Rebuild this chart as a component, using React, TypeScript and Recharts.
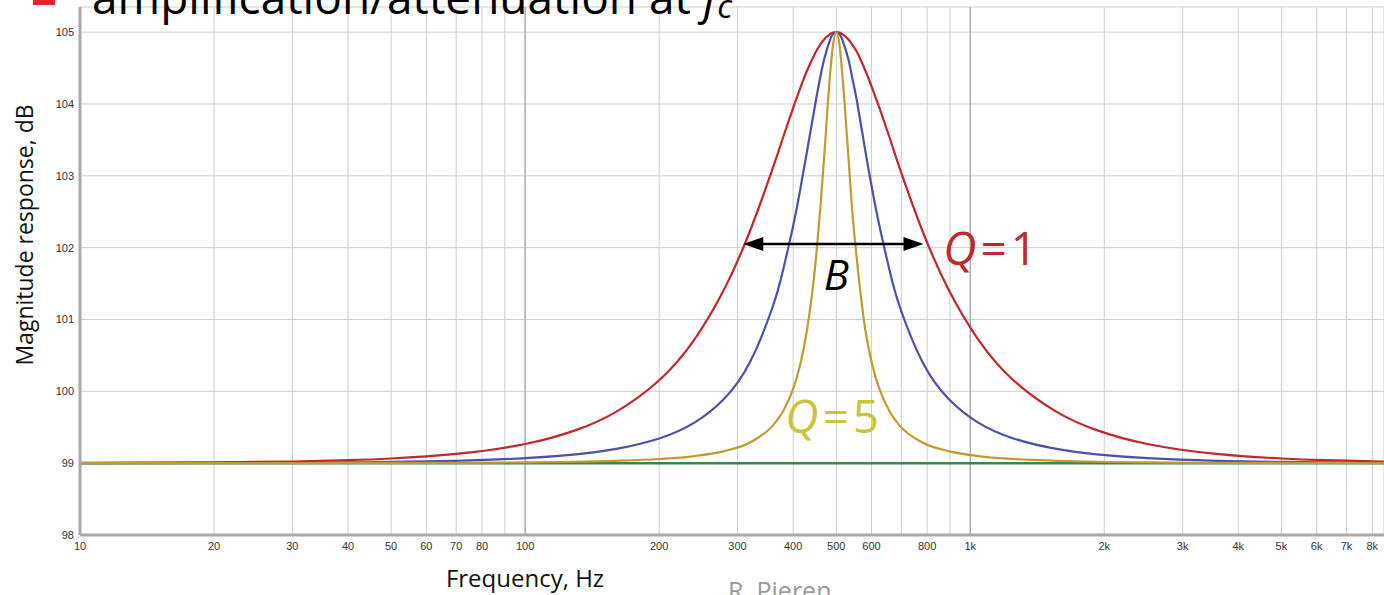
import React from "react";
import { CartesianGrid, Line, LineChart, ReferenceDot, ReferenceLine, XAxis, YAxis } from "recharts";

// sample frequencies (Hz), denser around the 500 Hz centre
const freqs = [
  10, 20, 30, 40, 50, 70, 100, 130, 160, 200, 240, 280, 320, 360, 380, 400, 415, 430, 450, 460, 470, 485, 492,
  500,
  508, 515, 532, 543, 556, 581, 602, 625, 658, 694, 781, 893, 1042, 1250, 1563, 1923, 2500, 3571, 5000, 6250, 8333, 8500,
];

// magnitude response in dB for the three peaking filters
const q1Values = [
  99.003, 99.01, 99.023, 99.042, 99.065, 99.129, 99.267, 99.46, 99.714, 100.154, 100.721, 101.42, 102.232, 103.108,
  103.54, 103.946, 104.222, 104.466, 104.726, 104.825, 104.902, 104.976, 104.993,
  105,
  104.993, 104.976, 104.902, 104.825, 104.726, 104.466, 104.222, 103.946, 103.54, 103.108, 102.232, 101.42, 100.721,
  100.154, 99.714, 99.46, 99.267, 99.129, 99.065, 99.042, 99.023, 99.022,
];
const q2Values = [
  99.001, 99.003, 99.006, 99.011, 99.017, 99.033, 99.07, 99.123, 99.198, 99.344, 99.564, 99.897, 100.407, 101.181,
  101.696, 102.303, 102.812, 103.348, 104.05, 104.364, 104.63, 104.905, 104.973,
  105,
  104.973, 104.905, 104.63, 104.364, 104.05, 103.348, 102.812, 102.303, 101.696, 101.181, 100.407, 99.897, 99.564,
  99.344, 99.198, 99.123, 99.07, 99.033, 99.017, 99.011, 99.006, 99.006,
];
const q5Values = [
  99.0, 99.0, 99.001, 99.002, 99.003, 99.005, 99.011, 99.02, 99.033, 99.058, 99.099, 99.167, 99.288, 99.523, 99.725,
  100.033, 100.375, 100.861, 101.844, 102.516, 103.296, 104.46, 104.837,
  105,
  104.837, 104.46, 103.296, 102.516, 101.844, 100.861, 100.375, 100.033, 99.725, 99.523, 99.288, 99.167, 99.099,
  99.058, 99.033, 99.02, 99.011, 99.005, 99.003, 99.002, 99.001, 99.001,
];

// unfiltered level
const baseLevel = 99;
const baseLine = [
  { f: 10, db: baseLevel },
  { f: 8500, db: baseLevel },
];

// x gridlines and their labels (blank = line only)
const gridFreqs = [10, 20, 30, 40, 50, 60, 70, 80, 90, 100, 200, 300, 400, 500, 600, 700, 800, 900, 1000, 2000, 3000, 4000, 5000, 6000, 7000, 8000];
const tickLabels = ["10", "20", "30", "40", "50", "60", "70", "80", "", "100", "200", "300", "400", "500", "600", "", "800", "", "1k", "2k", "3k", "4k", "5k", "6k", "7k", "8k"];
const dbTicks = [98, 99, 100, 101, 102, 103, 104, 105];

// bandwidth arrow for Q=1 (edges at the 102 dB level)
const bandLow = 309;
const bandHigh = 785;
const bandLevel = 102.05;

const data = freqs.map((f, i) => ({ f, q1: q1Values[i], q2: q2Values[i], q5: q5Values[i] }));

const RED = "#c3262d";
const BLUE = "#4b4fae";
const GOLD = "#c29b2f";
const GREEN = "#2c8c48";
const LABEL_YELLOW = "#c9c53a";
const AXIS_GRAY = "#a9a9a9";

const labelFor = (f: number) => tickLabels[gridFreqs.indexOf(f)] ?? "";

const BandArrow = (props: any) => {
  const { x1, y1, x2 } = props;
  const head = 20;
  const half = 7;
  return (
    <g>
      <line x1={x1 + head - 2} y1={y1} x2={x2 - head + 2} y2={y1} stroke="#000" strokeWidth={2.5} />
      <polygon points={`${x1},${y1} ${x1 + head},${y1 - half} ${x1 + head},${y1 + half}`} fill="#000" />
      <polygon points={`${x2},${y1} ${x2 - head},${y1 - half} ${x2 - head},${y1 + half}`} fill="#000" />
    </g>
  );
};

const qLabel = (value: string, color: string) => (props: any) => (
  <text x={props.cx} y={props.cy} fill={color} fontSize={46} fontFamily="Open Sans" letterSpacing={4}>
    <tspan fontStyle="italic">Q</tspan>={value}
  </text>
);

const bLabel = (props: any) => (
  <text x={props.cx} y={props.cy} textAnchor="middle" fill="#000" fontSize={42} fontStyle="italic" fontFamily="Open Sans">
    B
  </text>
);

const App: React.FC = () => {
  return (
    <div style={{ position: "absolute", left: 0, top: 0, width: 1384, height: 595, overflow: "hidden", background: "#fff" }}>
      <LineChart width={1384} height={595} data={data} margin={{ top: 7, right: 0, bottom: 0, left: 0 }}>
        <CartesianGrid stroke="#cfcfcf" strokeWidth={1} />
        <ReferenceLine x={100} stroke="#999" />
        <ReferenceLine x={1000} stroke="#999" />
        <XAxis
          dataKey="f"
          type="number"
          scale="log"
          domain={[10, 8500]}
          ticks={gridFreqs}
          allowDataOverflow
          height={60}
          tickLine={false}
          tickSize={5}
          axisLine={{ stroke: AXIS_GRAY, strokeWidth: 3 }}
          tickFormatter={labelFor}
          tick={{ fontSize: 11, fill: "#333", fontFamily: "Liberation Sans" }}
          interval={0}
        />
        <YAxis
          type="number"
          domain={[98, 105.35]}
          ticks={dbTicks}
          allowDataOverflow
          width={80}
          tickLine={false}
          tickSize={4}
          axisLine={{ stroke: AXIS_GRAY, strokeWidth: 3 }}
          tick={{ fontSize: 11, fill: "#333", fontFamily: "Liberation Sans" }}
          interval={0}
        />
        <Line data={baseLine} dataKey="db" type="linear" stroke={GREEN} strokeWidth={2.5} dot={false} isAnimationActive={false} />
        <Line dataKey="q1" type="natural" stroke={RED} strokeWidth={2.2} dot={false} isAnimationActive={false} />
        <Line dataKey="q2" type="natural" stroke={BLUE} strokeWidth={2.2} dot={false} isAnimationActive={false} />
        <Line dataKey="q5" type="monotone" stroke={GOLD} strokeWidth={2.2} dot={false} isAnimationActive={false} />
        <ReferenceLine
          segment={[
            { x: bandLow, y: bandLevel },
            { x: bandHigh, y: bandLevel },
          ]}
          shape={BandArrow}
        />
        <ReferenceDot x={500} y={101.41} r={0} shape={bLabel} />
        <ReferenceDot x={870} y={101.76} r={0} shape={qLabel("1", RED)} />
        <ReferenceDot x={384} y={99.42} r={0} shape={qLabel("5", LABEL_YELLOW)} />
      </LineChart>
      <svg width={1384} height={595} style={{ position: "absolute", left: 0, top: 0, pointerEvents: "none" }}>
        <rect x={33} y={-17} width={22} height={22} fill="#e5232b" />
        <text x={92} y={14} fontSize={46} fontFamily="Open Sans" fill="#000">
          amplification/attenuation at <tspan fontStyle="italic">f</tspan>
          <tspan fontStyle="italic" fontSize={33} dy={4}>c</tspan>
        </text>
        <text
          transform="translate(33, 235) rotate(-90)"
          textAnchor="middle"
          fontSize={23}
          fontFamily="Open Sans"
          fill="#111"
        >
          Magnitude response, dB
        </text>
        <text x={525} y={587} textAnchor="middle" fontSize={24} fontFamily="Open Sans" fill="#111">
          Frequency, Hz
        </text>
        <text x={728} y={600} fontSize={25} fontFamily="Open Sans" fill="#9a9a9a">
          R. Pieren
        </text>
      </svg>
    </div>
  );
};

export default App;
